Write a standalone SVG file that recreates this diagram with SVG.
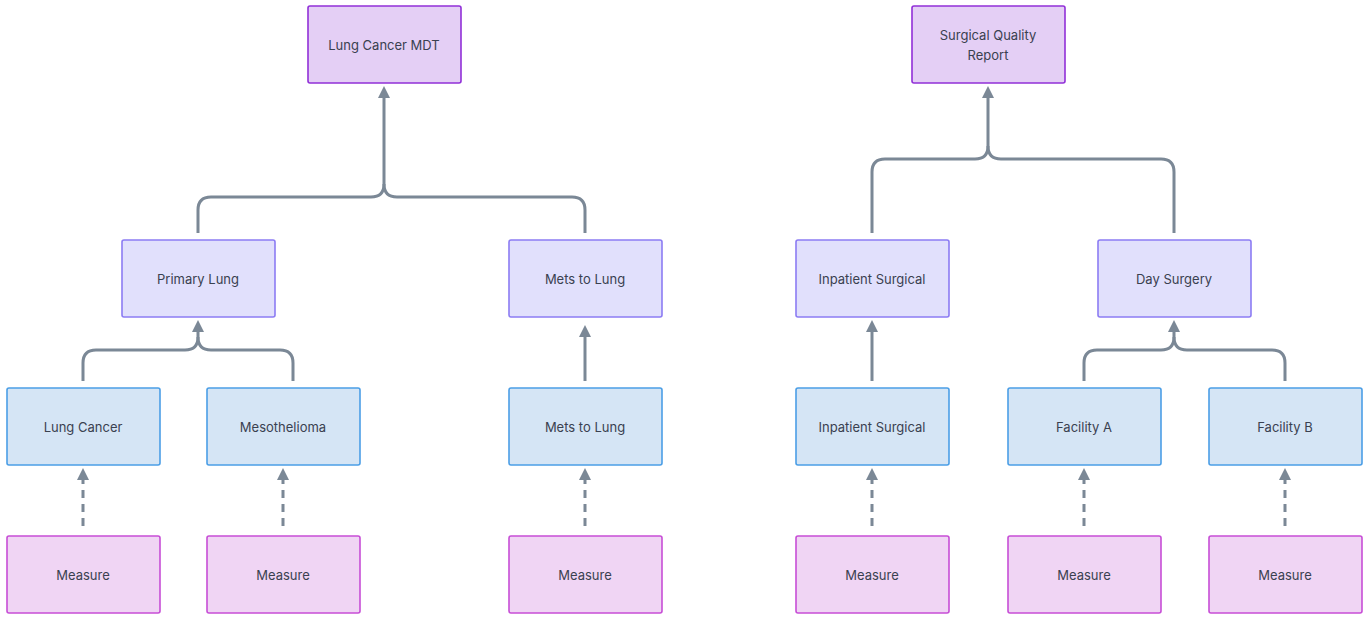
<svg xmlns="http://www.w3.org/2000/svg" width="1369" height="619" viewBox="0 0 1369 619">
<style>
rect{stroke-width:1.6}
.t{fill:#e4cff5;stroke:#9130d8}
.m{fill:#e1e0fc;stroke:#8c7cf3}
.l{fill:#d5e5f5;stroke:#4b9ee6}
.s{fill:#f0d5f4;stroke:#c74ed6}
text{font-family:Inter,"Noto Sans",sans-serif;font-size:13px;fill:#3a4150;text-anchor:middle;dominant-baseline:central}
.c path{fill:none;stroke:#7b8896;stroke-width:3}
.c .d{stroke-dasharray:8 6}
</style>
<defs><marker id="a" viewBox="0 0 10 10" refX="5" refY="5" markerWidth="4" markerHeight="4" orient="auto"><path d="M0,0L10,5L0,10z" fill="#7b8896"/></marker></defs>
<rect width="1369" height="619" fill="#fff"/>
<g class="c">
<path d="M198,233V210Q198,197 211,197H371Q384,197 384,184V92" marker-end="url(#a)"/>
<path d="M585,233V210Q585,197 572,197H397Q384,197 384,184"/>
<path d="M83,381V363Q83,350 96,350H185Q198,350 198,337V326" marker-end="url(#a)"/>
<path d="M293,381V363Q293,350 280,350H211Q198,350 198,337"/>
<path d="M585,381V331" marker-end="url(#a)"/>
<path d="M872,233V172Q872,159 885,159H975Q988,159 988,146V92" marker-end="url(#a)"/>
<path d="M1174,233V172Q1174,159 1161,159H1001Q988,159 988,146"/>
<path d="M872,381V326" marker-end="url(#a)"/>
<path d="M1084,381V363Q1084,350 1097,350H1161Q1174,350 1174,337V326" marker-end="url(#a)"/>
<path d="M1285,381V363Q1285,350 1272,350H1187Q1174,350 1174,337"/>
<path class="d" d="M83,526V474" marker-end="url(#a)"/>
<path class="d" d="M283,526V474" marker-end="url(#a)"/>
<path class="d" d="M585,526V474" marker-end="url(#a)"/>
<path class="d" d="M872,526V474" marker-end="url(#a)"/>
<path class="d" d="M1084,526V474" marker-end="url(#a)"/>
<path class="d" d="M1285,526V474" marker-end="url(#a)"/>
</g>
<g id="mdt"><rect class="t" x="308" y="6" width="153" height="77" rx="2"/><text x="384" y="45">Lung Cancer MDT</text></g>
<g id="sqr"><rect class="t" x="912" y="6" width="153" height="77" rx="2"/><text x="988" y="35">Surgical Quality</text><text x="988" y="55">Report</text></g>
<g id="pl"><rect class="m" x="122" y="240" width="153" height="77" rx="2"/><text x="198" y="279">Primary Lung</text></g>
<g id="ml1"><rect class="m" x="509" y="240" width="153" height="77" rx="2"/><text x="585" y="279">Mets to Lung</text></g>
<g id="is1"><rect class="m" x="796" y="240" width="153" height="77" rx="2"/><text x="872" y="279">Inpatient Surgical</text></g>
<g id="ds"><rect class="m" x="1098" y="240" width="153" height="77" rx="2"/><text x="1174" y="279">Day Surgery</text></g>
<g id="lc"><rect class="l" x="7" y="388" width="153" height="77" rx="2"/><text x="83" y="427">Lung Cancer</text></g>
<g id="me"><rect class="l" x="207" y="388" width="153" height="77" rx="2"/><text x="283" y="427">Mesothelioma</text></g>
<g id="ml2"><rect class="l" x="509" y="388" width="153" height="77" rx="2"/><text x="585" y="427">Mets to Lung</text></g>
<g id="is2"><rect class="l" x="796" y="388" width="153" height="77" rx="2"/><text x="872" y="427">Inpatient Surgical</text></g>
<g id="fa"><rect class="l" x="1008" y="388" width="153" height="77" rx="2"/><text x="1084" y="427">Facility A</text></g>
<g id="fb"><rect class="l" x="1209" y="388" width="153" height="77" rx="2"/><text x="1285" y="427">Facility B</text></g>
<g id="m1"><rect class="s" x="7" y="536" width="153" height="77" rx="2"/><text x="83" y="575">Measure</text></g>
<g id="m2"><rect class="s" x="207" y="536" width="153" height="77" rx="2"/><text x="283" y="575">Measure</text></g>
<g id="m3"><rect class="s" x="509" y="536" width="153" height="77" rx="2"/><text x="585" y="575">Measure</text></g>
<g id="m4"><rect class="s" x="796" y="536" width="153" height="77" rx="2"/><text x="872" y="575">Measure</text></g>
<g id="m5"><rect class="s" x="1008" y="536" width="153" height="77" rx="2"/><text x="1084" y="575">Measure</text></g>
<g id="m6"><rect class="s" x="1209" y="536" width="153" height="77" rx="2"/><text x="1285" y="575">Measure</text></g>
</svg>
